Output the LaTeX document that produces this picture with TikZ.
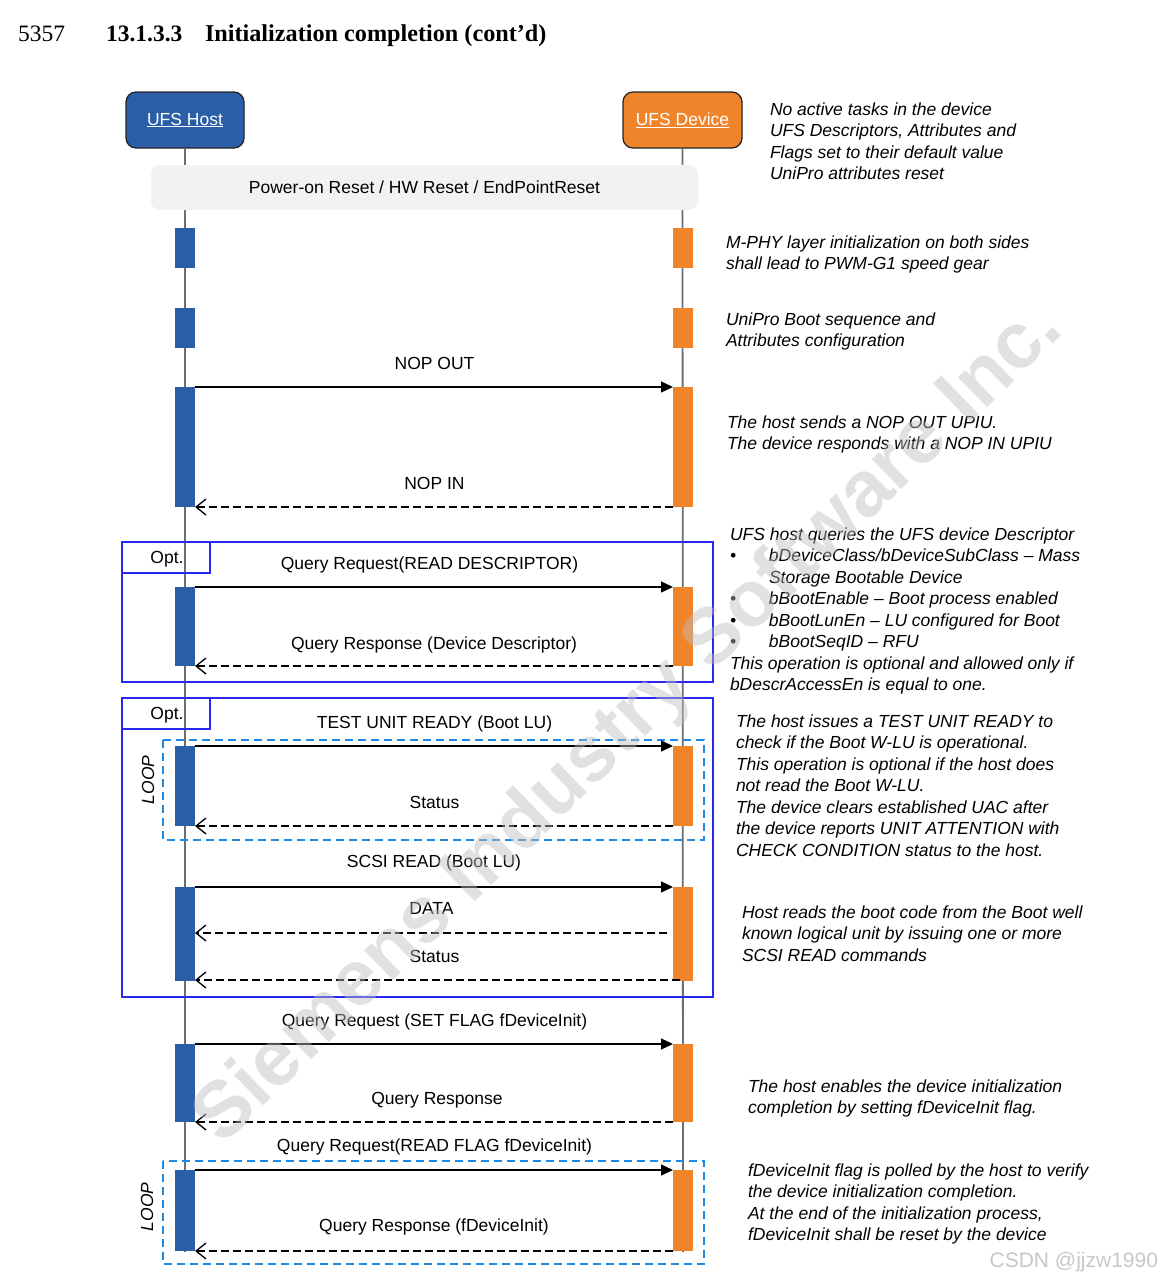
\documentclass[tikz,border=0pt]{standalone}
\usepackage{fontspec}
\setmainfont{Liberation Serif}
\newfontfamily\arialfont{Liberation Sans}
\usetikzlibrary{arrows.meta}

\definecolor{hostblue}{RGB}{42,94,166}
\definecolor{devorange}{RGB}{240,132,42}
\definecolor{lifegray}{RGB}{110,110,110}
\definecolor{optblue}{RGB}{40,40,240}
\definecolor{loopblue}{RGB}{30,136,229}
\definecolor{resetgray}{RGB}{242,242,242}
\definecolor{wmgray}{RGB}{190,190,190}
\definecolor{csdngray}{RGB}{200,200,200}

\begin{document}
\begin{tikzpicture}[x=1pt,y=-1pt,
  every node/.style={inner sep=0pt, outer sep=0pt},
  lbl/.style={font=\arialfont\fontsize{17.5}{21}\selectfont, anchor=base},
  note/.style={font=\arialfont\itshape\fontsize{17.5}{21.5}\selectfont, anchor=north west, align=left},
  actor/.style={draw=black!85, line width=1.3pt, rounded corners=10pt,
    minimum height=56pt, text=white, font=\arialfont\fontsize{17.5}{21}\selectfont},
  hbar/.style={fill=hostblue, minimum width=20pt},
  dbar/.style={fill=devorange, minimum width=20pt},
  life/.style={draw=lifegray, line width=1.8pt},
  msg/.style={draw=black, line width=1.3pt, -{Triangle[length=12pt,width=11pt]}},
  reply/.style={draw=black, line width=1.3pt, dash pattern=on 8pt off 4pt,
    -{Straight Barb[length=10pt,width=16pt]}},
  optframe/.style={draw=optblue, line width=1.1pt},
  loopframe/.style={draw=loopblue, line width=1.1pt, dash pattern=on 8pt off 5pt},
  looplbl/.style={font=\arialfont\itshape\fontsize{17.5}{21}\selectfont, rotate=90},
]
\fill[white] (0,0) rectangle (1163,1280);
\useasboundingbox (0,0) rectangle (1163,1280);

% heading
\node[anchor=base west, font=\fontsize{23.5}{28}\selectfont] (lineno) at (18,41) {5357};
\node[anchor=base west, font=\bfseries\fontsize{23.5}{28}\selectfont] (secno) at (106,41) {13.1.3.3};
\node[anchor=base west, font=\bfseries\fontsize{24.2}{28}\selectfont] (sectitle) at (205,41) {Initialization completion (cont’d)};

% participants
\node[actor, fill=hostblue, minimum width=118pt] (host) at (185,120) {\underline{UFS Host}};
\node[actor, fill=devorange, minimum width=119pt] (dev) at (682.5,120) {\underline{UFS Device}};
\coordinate (hostend) at (185,1252);
\coordinate (devend) at (683,1252);
\draw[life] (host.south) -- (hostend);
\draw[life] (dev.south) -- (devend);

% reset band
\node[fill=resetgray, rounded corners=9pt, minimum width=547pt, minimum height=45pt,
  font=\arialfont\fontsize{17.5}{21}\selectfont] (reset) at (424.5,187.5)
  {Power-on Reset / HW Reset / EndPointReset};

% activation bars
\foreach \n/\yc/\hh in {1/248/40, 2/328/40, 3/447/120, 4/626.5/79, 5/786/80,
                        6/934/94, 7/1083/78, 8/1210.5/81} {
  \node[hbar, minimum height=\hh pt] (h\n) at (185,\yc) {};
  \node[dbar, minimum height=\hh pt] (d\n) at (683,\yc) {};
}

% combined fragments
\draw[optframe] (122,542) rectangle (713,682);
\draw[optframe] (122,573) -- (210,573) -- (210,542);
\node[lbl] (opt1) at (167,563) {Opt.};
\draw[optframe] (122,698) rectangle (713,997);
\draw[optframe] (122,729) -- (210,729) -- (210,698);
\node[lbl] (opt2) at (167,719) {Opt.};
\draw[loopframe] (163,740) rectangle (704,840);
\node[looplbl] (loop1) at (148,780) {LOOP};
\draw[loopframe] (163,1161) rectangle (704,1264);
\node[looplbl] (loop2) at (147,1207) {LOOP};

% messages
\draw[msg] (h3.north east) -- (d3.north west);
\node[lbl] (m1) at (434.5,369) {NOP OUT};
\draw[reply] (d3.south west) -- (h3.south east);
\node[lbl] (m2) at (434.5,489) {NOP IN};

\draw[msg] (h4.north east) -- (d4.north west);
\node[lbl] (m3) at (429.5,569) {Query Request(READ DESCRIPTOR)};
\draw[reply] (d4.south west) -- (h4.south east);
\node[lbl] (m4) at (434,649) {Query Response (Device Descriptor)};

\draw[msg] (h5.north east) -- (d5.north west);
\node[lbl] (m5) at (434.5,728) {TEST UNIT READY (Boot LU)};
\draw[reply] (d5.south west) -- (h5.south east);
\node[lbl] (m6) at (434.5,808) {Status};

\draw[msg] (h6.north east) -- (d6.north west);
\node[lbl] (m7) at (434,867) {SCSI READ (Boot LU)};
\coordinate (data0) at (667,933);
\draw[reply] (data0) -- (data0 -| h6.east);
\node[lbl] (m8) at (431.5,914) {DATA};
\coordinate (stat0) at (680,980);
\draw[reply] (stat0) -- (stat0 -| h6.east);
\node[lbl] (m9) at (434.5,962) {Status};

\draw[msg] (h7.north east) -- (d7.north west);
\node[lbl] (m10) at (434.5,1026) {Query Request (SET FLAG fDeviceInit)};
\draw[reply] (d7.south west) -- (h7.south east);
\node[lbl] (m11) at (437,1104) {Query Response};

\draw[msg] (h8.north east) -- (d8.north west);
\node[lbl] (m12) at (434.5,1151) {Query Request(READ FLAG fDeviceInit)};
\draw[reply] (d8.south west) -- (h8.south east);
\node[lbl] (m13) at (434,1231) {Query Response (fDeviceInit)};

% side notes
\node[note] (n1) at (770,102.5) {No active tasks in the device\\UFS Descriptors, Attributes and\\Flags set to their default value\\UniPro attributes reset};
\node[note] (n2) at (726,235.5) {M-PHY layer initialization on both sides\\shall lead to PWM-G1 speed gear};
\node[note] (n3) at (726,312.5) {UniPro Boot sequence and\\Attributes configuration};
\node[note] (n4) at (727,415.5) {The host sends a NOP OUT UPIU.\\The device responds with a NOP IN UPIU};
\node[note] (n5) at (730,527.5) {UFS host queries the UFS device Descriptor\\
  \makebox[39pt][l]{\textbullet}bDeviceClass/bDeviceSubClass – Mass\\
  \hspace*{39pt}Storage Bootable Device\\
  \makebox[39pt][l]{\textbullet}bBootEnable – Boot process enabled\\
  \makebox[39pt][l]{\textbullet}bBootLunEn – LU configured for Boot\\
  \makebox[39pt][l]{\textbullet}bBootSeqID – RFU\\
  This operation is optional and allowed only if\\bDescrAccessEn is equal to one.};
\node[note] (n6) at (736,714.5) {The host issues a TEST UNIT READY to\\check if the Boot W-LU is operational.\\This operation is optional if the host does\\not read the Boot W-LU.\\The device clears established UAC after\\the device reports UNIT ATTENTION with\\CHECK CONDITION status to the host.};
\node[note] (n7) at (742,905.5) {Host reads the boot code from the Boot well\\known logical unit by issuing one or more\\SCSI READ commands};
\node[note] (n8) at (748,1079.5) {The host enables the device initialization\\completion by setting fDeviceInit flag.};
\node[note] (n9) at (748,1163.5) {fDeviceInit flag is polled by the host to verify\\the device initialization completion.\\At the end of the initialization process,\\fDeviceInit shall be reset by the device};

% marks laid over the page
\node[anchor=base west, rotate=44, text=wmgray, opacity=0.45,
  font=\arialfont\bfseries\fontsize{79}{79}\selectfont] (wm) at (222,1146)
  {Siemens Industry Software Inc.};
\node[anchor=base east, text=csdngray, font=\arialfont\fontsize{21}{24}\selectfont]
  (csdn) at (1158,1267.5) {CSDN @jjzw1990};
\end{tikzpicture}
\end{document}
